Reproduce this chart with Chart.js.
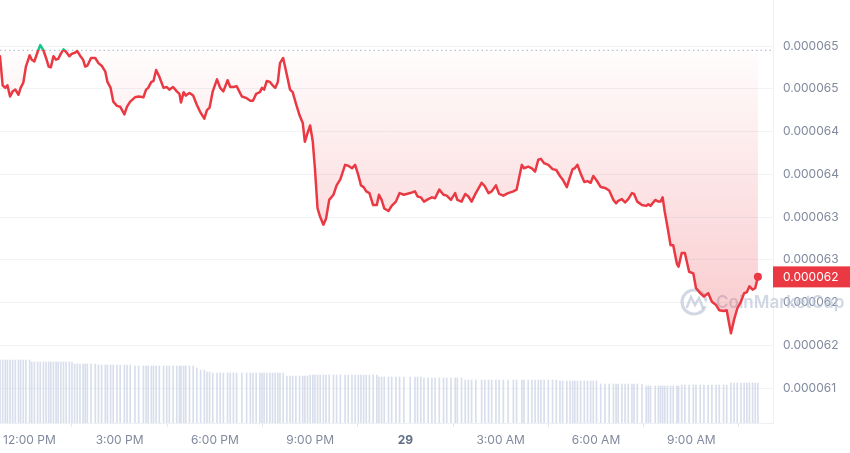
<!DOCTYPE html>
<html>
<head>
<meta charset="utf-8">
<title>Price chart</title>
<script src="https://cdn.jsdelivr.net/npm/chart.js@4.4.0/dist/chart.umd.min.js"></script>
<style>
  html, body { margin: 0; padding: 0; background: #fff; }
</style>
</head>
<body>
<canvas id="priceChart" width="850" height="453"></canvas>
<script>
// time of each sample, minutes since 00:00 on the 28th
const times = [
  674, 679, 684, 688, 693, 698, 703, 709, 713, 718,
  723, 730, 734, 739, 745, 750, 756, 761, 766, 770,
  775, 780, 784, 789, 794, 799, 805, 810, 815, 820,
  825, 831, 835, 839, 846, 854, 860, 866, 873, 877,
  883, 888, 895, 901, 909, 914, 920, 929, 936, 945,
  950, 954, 960, 964, 969, 975, 983, 989, 994, 1001,
  1008, 1013, 1016, 1021, 1025, 1032, 1039, 1046, 1053, 1060,
  1065, 1070, 1076, 1084, 1090, 1096, 1104, 1109, 1115, 1121,
  1131, 1140, 1147, 1152, 1158, 1165, 1169, 1173, 1178, 1184,
  1189, 1194, 1199, 1203, 1209, 1216, 1222, 1227, 1233, 1240,
  1246, 1250, 1255, 1260, 1265, 1269, 1274, 1279, 1285, 1290,
  1296, 1304, 1310, 1317, 1326, 1332, 1339, 1345, 1351, 1356,
  1361, 1366, 1372, 1379, 1386, 1390, 1395, 1400, 1408, 1414,
  1422, 1429, 1437, 1449, 1458, 1463, 1469, 1475, 1483, 1490,
  1496, 1504, 1512, 1518, 1526, 1534, 1538, 1546, 1553, 1559,
  1565, 1573, 1584, 1590, 1597, 1603, 1611, 1617, 1625, 1634,
  1644, 1650, 1660, 1664, 1672, 1679, 1685, 1691, 1696, 1702,
  1710, 1718, 1725, 1732, 1737, 1745, 1751, 1756, 1760, 1765,
  1771, 1778, 1784, 1790, 1795, 1801, 1809, 1817, 1825, 1833,
  1838, 1842, 1849, 1855, 1861, 1868, 1872, 1878, 1887, 1895,
  1899, 1903, 1912, 1918, 1922, 1926, 1930, 1935, 1941, 1946,
  1953, 1956, 1962, 1968, 1976, 1984, 1989, 1997, 2004, 2012,
  2019, 2027, 2033, 2041, 2047, 2055, 2061, 2067, 2074, 2080,
  2085, 2090, 2096, 2101, 2106
];

const prices = [
  0.00006488, 0.00006454, 0.00006451, 0.00006454, 0.00006441, 0.00006447, 0.00006449, 0.00006443, 0.00006451, 0.00006457,
  0.00006476, 0.00006489, 0.00006484, 0.00006482, 0.00006493, 0.00006501, 0.00006495, 0.00006486, 0.00006476, 0.00006475,
  0.00006488, 0.00006484, 0.00006485, 0.00006491, 0.00006496, 0.00006493, 0.00006488, 0.00006491, 0.00006492, 0.00006494,
  0.00006489, 0.00006484, 0.00006476, 0.00006477, 0.00006486, 0.00006486, 0.00006480, 0.00006477, 0.00006470, 0.00006458,
  0.00006451, 0.00006435, 0.00006430, 0.00006429, 0.00006420, 0.00006429, 0.00006435, 0.00006440, 0.00006441, 0.00006440,
  0.00006449, 0.00006451, 0.00006458, 0.00006459, 0.00006472, 0.00006464, 0.00006451, 0.00006452, 0.00006449, 0.00006452,
  0.00006447, 0.00006444, 0.00006434, 0.00006446, 0.00006442, 0.00006445, 0.00006442, 0.00006431, 0.00006422, 0.00006415,
  0.00006425, 0.00006428, 0.00006447, 0.00006461, 0.00006451, 0.00006447, 0.00006460, 0.00006452, 0.00006452, 0.00006453,
  0.00006441, 0.00006439, 0.00006436, 0.00006436, 0.00006444, 0.00006446, 0.00006451, 0.00006449, 0.00006459, 0.00006458,
  0.00006454, 0.00006451, 0.00006458, 0.00006480, 0.00006486, 0.00006466, 0.00006449, 0.00006446, 0.00006433, 0.00006419,
  0.00006410, 0.00006388, 0.00006398, 0.00006407, 0.00006388, 0.00006357, 0.00006310, 0.00006300, 0.00006291, 0.00006298,
  0.00006320, 0.00006326, 0.00006337, 0.00006344, 0.00006361, 0.00006360, 0.00006357, 0.00006361, 0.00006349, 0.00006337,
  0.00006335, 0.00006330, 0.00006328, 0.00006314, 0.00006314, 0.00006326, 0.00006320, 0.00006310, 0.00006307, 0.00006313,
  0.00006318, 0.00006328, 0.00006326, 0.00006328, 0.00006330, 0.00006324, 0.00006323, 0.00006318, 0.00006321, 0.00006323,
  0.00006322, 0.00006332, 0.00006326, 0.00006325, 0.00006320, 0.00006328, 0.00006320, 0.00006318, 0.00006327, 0.00006324,
  0.00006318, 0.00006328, 0.00006340, 0.00006336, 0.00006328, 0.00006330, 0.00006337, 0.00006327, 0.00006325, 0.00006328,
  0.00006330, 0.00006332, 0.00006361, 0.00006357, 0.00006359, 0.00006357, 0.00006353, 0.00006367, 0.00006368, 0.00006363,
  0.00006361, 0.00006356, 0.00006355, 0.00006348, 0.00006344, 0.00006335, 0.00006347, 0.00006356, 0.00006357, 0.00006361,
  0.00006351, 0.00006341, 0.00006342, 0.00006340, 0.00006348, 0.00006343, 0.00006335, 0.00006334, 0.00006331, 0.00006320,
  0.00006316, 0.00006319, 0.00006321, 0.00006317, 0.00006321, 0.00006328, 0.00006327, 0.00006318, 0.00006314, 0.00006313,
  0.00006315, 0.00006313, 0.00006320, 0.00006318, 0.00006318, 0.00006323, 0.00006306, 0.00006289, 0.00006267, 0.00006267,
  0.00006245, 0.00006242, 0.00006258, 0.00006258, 0.00006236, 0.00006234, 0.00006217, 0.00006211, 0.00006207, 0.00006211,
  0.00006201, 0.00006197, 0.00006191, 0.00006190, 0.00006191, 0.00006164, 0.00006180, 0.00006193, 0.00006201, 0.00006211,
  0.00006212, 0.00006219, 0.00006215, 0.00006217, 0.00006230
];

// relative volume per sample
const volumes = [
  63, 63, 63, 63, 63, 63, 63, 63, 63, 63, 63, 63,
  61, 61, 61, 61, 61, 61, 61, 61, 61, 61, 61, 61, 61, 61, 61, 61,
  59, 59, 59, 59, 59, 59, 59, 59,
  58, 58, 58, 58, 58, 58, 58, 58, 58, 58, 58,
  57, 57, 57, 57, 57, 57, 57, 57, 57, 57, 57, 57, 57, 57, 57, 57, 57, 57, 57, 57,
  55, 53, 53, 51, 51,
  50, 50, 50, 50, 50, 50, 50, 50, 50, 50, 50, 50, 50, 50, 50, 50, 50, 50, 50, 50, 50, 50, 50,
  47, 47, 47, 47, 47, 47, 47, 47,
  48, 48, 48, 48, 48, 48, 48, 48, 48, 48, 48, 48, 48, 48, 48, 48, 48, 48, 48, 48, 48, 48,
  46, 46, 46, 46, 46, 46, 46, 46, 46, 46, 46, 46,
  45, 45, 45, 45, 45, 45, 45, 45, 45, 45, 45,
  43, 43, 43, 43, 43, 43, 43, 43, 43, 43, 43, 43, 43, 43, 43, 43, 43, 43, 43, 43, 43, 43, 43, 43, 43,
  42, 42, 42, 42, 42, 42, 42, 42, 42, 42, 42, 42, 42,
  39, 39, 39, 39, 39, 39, 39, 39, 39, 39, 39, 39, 39,
  37, 37, 37, 37, 37, 37, 37, 37, 37, 37, 37, 37, 37,
  38, 38, 38, 38, 38, 38, 38, 38, 38, 38, 38, 38, 38,
  40, 40, 40, 40, 40, 40, 40, 40, 40, 40
];

const openPrice = 0.00006495;

const xTickValues = [720, 900, 1080, 1260, 1440, 1620, 1800, 1980];
const xTickLabels = ['12:00 PM', '3:00 PM', '6:00 PM', '9:00 PM', '29', '3:00 AM', '6:00 AM', '9:00 AM'];

const yTickValues = [0.0000650, 0.0000645, 0.0000640, 0.0000635, 0.0000630, 0.0000625, 0.0000620, 0.0000615, 0.0000610];
const yTickLabels = ['0.000065', '0.000065', '0.000064', '0.000064', '0.000063', '0.000063', '0.000062', '0.000062', '0.000061'];

const RED = '#ea3943';
const GREEN = '#16c784';
const AXIS_TEXT = '#808a9d';

Chart.defaults.font.family = "Inter, 'Noto Sans', sans-serif";

// green above the open price, red below
function lineColor(context) {
    const { ctx, chartArea, scales } = context.chart;
    if (!chartArea) return RED;
    const yBase = scales.y.getPixelForValue(openPrice);
    let stop = (yBase - chartArea.top) / (chartArea.bottom - chartArea.top);
    stop = Math.min(Math.max(stop, 0), 1);
    const g = ctx.createLinearGradient(0, chartArea.top, 0, chartArea.bottom);
    g.addColorStop(0, GREEN);
    g.addColorStop(stop, GREEN);
    g.addColorStop(stop, RED);
    g.addColorStop(1, RED);
    return g;
}

function fillColor(context) {
    const { ctx, chartArea, scales } = context.chart;
    if (!chartArea) return 'rgba(234,57,67,0.1)';
    const yBase = scales.y.getPixelForValue(openPrice);
    const yLow = scales.y.getPixelForValue(Math.min(...prices));
    const g = ctx.createLinearGradient(0, yBase, 0, yLow);
    g.addColorStop(0, 'rgba(234,57,67,0.01)');
    g.addColorStop(1, 'rgba(234,57,67,0.27)');
    return g;
}

const watermark = {
    id: 'watermark',
    beforeDatasetsDraw(chart) {
        const { ctx, chartArea } = chart;
        const cx = chartArea.right - 79;
        const cy = chartArea.bottom - 121;
        ctx.save();
        ctx.strokeStyle = 'rgba(185,194,212,0.65)';
        ctx.fillStyle = 'rgba(185,194,212,0.65)';
        ctx.lineWidth = 3;
        ctx.lineCap = 'round';
        ctx.beginPath();
        ctx.arc(cx, cy, 12, 0.15 * Math.PI, 1.95 * Math.PI);
        ctx.stroke();
        ctx.lineWidth = 2.5;
        ctx.beginPath();
        ctx.moveTo(cx - 7, cy + 5);
        ctx.lineTo(cx - 3, cy - 5);
        ctx.lineTo(cx + 1, cy + 3);
        ctx.lineTo(cx + 5, cy - 4);
        ctx.lineTo(cx + 9, cy + 6);
        ctx.stroke();
        ctx.font = "600 17px Inter, 'Noto Sans', sans-serif";
        ctx.textBaseline = 'middle';
        ctx.fillText('CoinMarketCap', cx + 22, cy + 1);
        ctx.restore();
    }
};

const lastPriceTag = {
    id: 'lastPriceTag',
    afterDraw(chart) {
        const { ctx, chartArea, scales, width } = chart;
        const last = prices[prices.length - 1];
        const y = scales.y.getPixelForValue(last);
        ctx.save();
        ctx.fillStyle = RED;
        ctx.fillRect(chartArea.right, y - 10.5, width - chartArea.right, 21);
        ctx.fillStyle = '#ffffff';
        ctx.font = "12px Inter, 'Noto Sans', sans-serif";
        ctx.textBaseline = 'middle';
        ctx.textAlign = 'left';
        ctx.fillText(last.toFixed(6), chartArea.right + 10, y + 0.5);
        ctx.restore();
    }
};

const xMin = 674;
const xMax = 2134.5;

new Chart(document.getElementById('priceChart'), {
    type: 'line',
    data: {
        datasets: [{
            label: 'Price',
            data: times.map((t, i) => ({ x: t, y: prices[i] })),
            yAxisID: 'y',
            borderColor: lineColor,
            backgroundColor: fillColor,
            borderWidth: 2.5,
            borderJoinStyle: 'round',
            borderCapStyle: 'round',
            tension: 0,
            fill: { value: openPrice },
            pointRadius: ctx => ctx.dataIndex === prices.length - 1 ? 4 : 0,
            pointBackgroundColor: RED,
            pointBorderWidth: 0,
            order: 1
        }, {
            label: 'Open',
            data: [{ x: xMin, y: openPrice }, { x: xMax, y: openPrice }],
            yAxisID: 'y',
            borderColor: '#a6b0c3',
            borderWidth: 1,
            borderDash: [1.5, 3],
            pointRadius: 0,
            fill: false,
            order: 2
        }, {
            type: 'bar',
            label: 'Volume',
            data: times.map((t, i) => ({ x: t, y: volumes[i] })),
            yAxisID: 'yVol',
            backgroundColor: 'rgba(200,208,226,0.7)',
            barThickness: 1,
            order: 3
        }]
    },
    options: {
        responsive: false,
        animation: false,
        layout: { padding: 0, autoPadding: false },
        plugins: {
            legend: { display: false },
            tooltip: { enabled: false }
        },
        scales: {
            x: {
                type: 'linear',
                min: xMin,
                max: xMax,
                offset: false,
                afterBuildTicks: s => { s.ticks = xTickValues.map(v => ({ value: v })); },
                afterFit: s => { s.height = 30; s.paddingLeft = 0; s.paddingRight = 0; },
                grid: { display: true, drawOnChartArea: false, drawTicks: true, tickLength: 4, color: '#e3e7ee' },
                border: { display: true, color: '#eef0f4' },
                ticks: {
                    autoSkip: false,
                    maxRotation: 0,
                    padding: 6,
                    color: ctx => xTickLabels[ctx.index] === '29' ? '#616e85' : AXIS_TEXT,
                    font: ctx => ({ size: 12, weight: xTickLabels[ctx.index] === '29' ? 'bold' : 'normal' }),
                    // first label is nudged right so it is not cut at the left edge
                    callback: (v, i) => (i === 0 ? '   ' : '') + xTickLabels[i]
                }
            },
            y: {
                position: 'right',
                min: 0.000060591,
                max: 0.000065538,
                afterBuildTicks: s => { s.ticks = yTickValues.map(v => ({ value: v })); },
                afterFit: s => { s.width = 77; s.paddingTop = 0; s.paddingBottom = 0; },
                grid: { color: '#f1f3f6', drawTicks: false },
                border: { display: true, color: '#eef0f4' },
                ticks: {
                    autoSkip: false,
                    padding: 10,
                    color: AXIS_TEXT,
                    font: { size: 12 },
                    callback: (v, i) => yTickLabels[i]
                }
            },
            yVol: {
                display: false,
                min: 0,
                max: 423
            }
        }
    },
    plugins: [watermark, lastPriceTag]
});
</script>
</body>
</html>
